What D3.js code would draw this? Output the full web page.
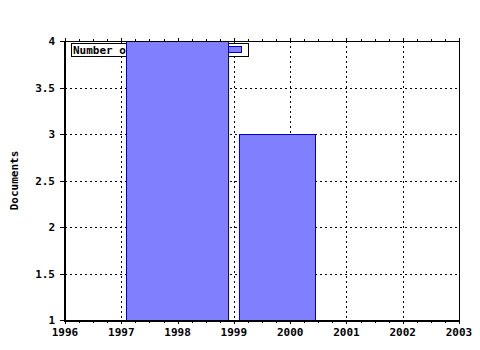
<!DOCTYPE html>
<html>
<head>
<meta charset="utf-8">
<script src="https://cdn.jsdelivr.net/npm/d3@7"></script>
<style>
  body { margin: 0; background: #fff; }
  text { font-family: "DejaVu Sans Mono", monospace; font-weight: bold; font-size: 11px; }
</style>
</head>
<body>
<div id="chart"></div>
<script>
// Data
const barStart = [1997.08, 1999.09];
const barEnd = [1998.9, 2000.44];
const barValues = [4, 3];
const xTicks = [1996, 1997, 1998, 1999, 2000, 2001, 2002, 2003];
const yTicks = [1, 1.5, 2, 2.5, 3, 3.5, 4];
const yLabels = ['1', '1.5', '2', '2.5', '3', '3.5', '4'];
const legendLabel = 'Number of documents';
const yTitle = 'Documents';

const width = 480, height = 350;
const margin = { top: 41, right: 21, bottom: 30, left: 65 };

const svg = d3.select('#chart').append('svg')
  .attr('width', width)
  .attr('height', height);

const x = d3.scaleLinear().domain([1996, 2003]).range([margin.left, width - margin.right]);
const y = d3.scaleLinear().domain([1, 4]).range([height - margin.bottom, margin.top]);

const x0 = x.range()[0], x1 = x.range()[1];
const y0 = y.range()[0], y1 = y.range()[1];

// Grid lines (dotted)
const grid = svg.append('g').attr('stroke', '#000').attr('stroke-width', 1)
  .attr('stroke-dasharray', '2,3').attr('shape-rendering', 'crispEdges');
grid.selectAll('.vg').data(xTicks.slice(1, -1)).enter().append('line')
  .attr('x1', d => Math.round(x(d)) + 0.5).attr('x2', d => Math.round(x(d)) + 0.5)
  .attr('y1', y1).attr('y2', y0);
grid.selectAll('.hg').data(yTicks.slice(1, -1)).enter().append('line')
  .attr('y1', d => Math.round(y(d)) + 0.5).attr('y2', d => Math.round(y(d)) + 0.5)
  .attr('x1', x0).attr('x2', x1);

// Legend (drawn under the bars, as in the reference)
const legend = svg.append('g');
legend.append('rect')
  .attr('x', 71.5).attr('y', 43.5).attr('width', 177).attr('height', 13)
  .attr('fill', '#fff').attr('stroke', '#000');
legend.append('text')
  .attr('x', 73).attr('y', 54)
  .text(legendLabel);
legend.append('rect')
  .attr('x', 228.5).attr('y', 46.5).attr('width', 13).attr('height', 6)
  .attr('fill', '#8080ff').attr('stroke', '#0000cc');

// Bars
svg.append('g').selectAll('rect').data(barValues).enter().append('rect')
  .attr('x', (d, i) => Math.round(x(barStart[i])) + 0.5)
  .attr('width', (d, i) => Math.round(x(barEnd[i]) - x(barStart[i])))
  .attr('y', d => Math.round(y(d)) + 0.5)
  .attr('height', d => Math.round(y0 - y(d)))
  .attr('fill', '#8080ff')
  .attr('stroke', '#0000cc')
  .attr('stroke-width', 1);

// Frame and ticks
const axes = svg.append('g').attr('stroke', '#000').attr('shape-rendering', 'crispEdges');
axes.append('rect')
  .attr('x', x0 - 0.5).attr('y', y1 + 0.5)
  .attr('width', x1 - x0 + 1).attr('height', y0 - y1)
  .attr('fill', 'none').attr('stroke-width', 1);
axes.append('line').attr('x1', x0 - 0.5).attr('x2', x0 - 0.5).attr('y1', y1).attr('y2', y0 + 1).attr('stroke-width', 2);
axes.append('line').attr('x1', x0 - 1).attr('x2', x1 + 1).attr('y1', y0 + 0.5).attr('y2', y0 + 0.5).attr('stroke-width', 2);

const minorX = d3.range(1996, 2003.001, 0.25);
axes.selectAll('.mxb').data(minorX).enter().append('line')
  .attr('x1', d => Math.round(x(d)) + 0.5).attr('x2', d => Math.round(x(d)) + 0.5)
  .attr('y1', y0).attr('y2', d => Number.isInteger(d) ? y0 + 4 : y0 + 2.5);
axes.selectAll('.mxt').data(minorX).enter().append('line')
  .attr('x1', d => Math.round(x(d)) + 0.5).attr('x2', d => Math.round(x(d)) + 0.5)
  .attr('y1', y1 + 0.5).attr('y2', d => Number.isInteger(d) ? y1 - 3.5 : y1 - 2);
axes.selectAll('.ty').data(yTicks).enter().append('line')
  .attr('y1', d => Math.round(y(d)) + 0.5).attr('y2', d => Math.round(y(d)) + 0.5)
  .attr('x1', x0 - 5).attr('x2', x0);

// Tick labels
svg.append('g').selectAll('text').data(xTicks).enter().append('text')
  .attr('x', d => x(d)).attr('y', y0 + 16)
  .attr('text-anchor', 'middle')
  .text(d => d);
svg.append('g').selectAll('text').data(yTicks).enter().append('text')
  .attr('x', x0 - 10).attr('y', d => y(d) + 4)
  .attr('text-anchor', 'end')
  .text((d, i) => yLabels[i]);

// Y title
svg.append('text')
  .attr('transform', `translate(18,${(y0 + y1) / 2}) rotate(-90)`)
  .attr('text-anchor', 'middle')
  .text(yTitle);
</script>
</body>
</html>
